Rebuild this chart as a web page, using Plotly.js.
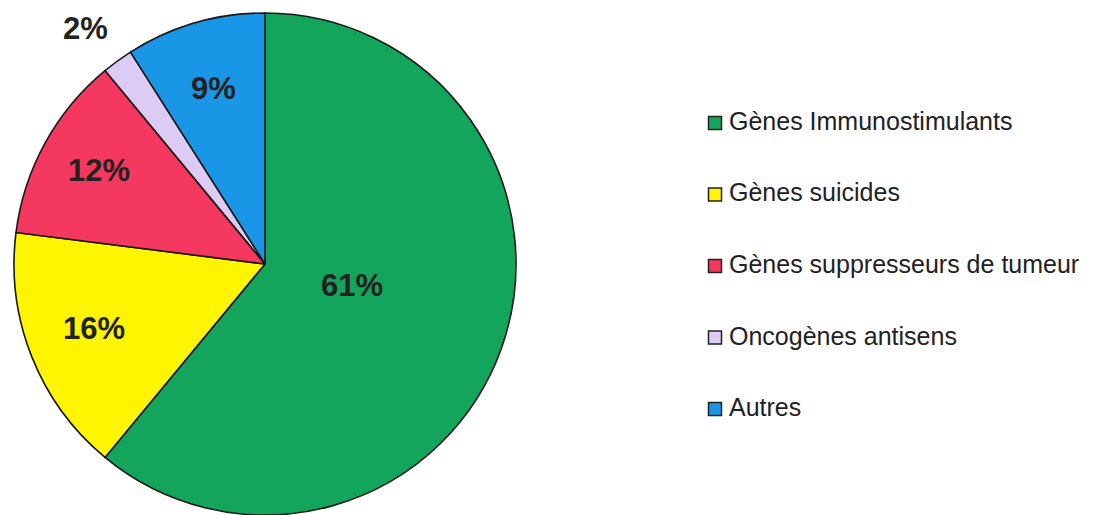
<!DOCTYPE html>
<html>
<head>
<meta charset="utf-8">
<script src="https://cdn.plot.ly/plotly-3.0.1.min.js"></script>
<style>
  html, body { margin: 0; padding: 0; background: #ffffff; }
  #chart { width: 1096px; height: 515px; }
</style>
</head>
<body>
<div id="chart"></div>
<script>
// Répartition des gènes utilisés en thérapie génique du cancer
const categories = [
  "Gènes Immunostimulants",
  "Gènes suicides",
  "Gènes suppresseurs de tumeur",
  "Oncogènes antisens",
  "Autres"
];
const percentages = [61, 16, 12, 2, 9];
const sliceColors = ["#12A55B", "#FFF500", "#F4385F", "#DCCBF2", "#1A96E6"];

// Figure geometry (pixels)
const W = 1096, H = 515;
const cx = 265, cy = 264, R = 251;
// placement of each percentage label: radius fraction and angular nudge (degrees)
const labelRadius = [0.357, 0.728, 0.76, 1.18, 0.729];
const labelNudge = [-5.6, 0.9, 0.7, -1.3, 0];

const px = x => x / W;
const py = y => (H - y) / H;

const total = percentages.reduce((a, b) => a + b, 0);
const annotations = [];
let cum = 0;
percentages.forEach((v, i) => {
  const mid = (cum + v / 2) / total;
  cum += v;
  const th = 2 * Math.PI * mid + labelNudge[i] * Math.PI / 180;
  const r = labelRadius[i] * R;
  annotations.push({
    xref: "paper", yref: "paper",
    x: px(cx + r * Math.sin(th)), y: py(cy - r * Math.cos(th)),
    xanchor: "center", yanchor: "middle",
    text: v + "%", showarrow: false,
    font: { family: "Liberation Sans, Arial, sans-serif", size: 31, color: "#222222", weight: "bold" }
  });
});

// Legend drawn on the right: square swatch + label for every category
const legendX = 715, legendY0 = 123, legendStep = 71.5, sw = 13;
const shapes = [];
categories.forEach((name, i) => {
  const yc = legendY0 + i * legendStep;
  shapes.push({
    type: "rect", xref: "paper", yref: "paper",
    x0: px(legendX - sw / 2), x1: px(legendX + sw / 2),
    y0: py(yc + sw / 2), y1: py(yc - sw / 2),
    fillcolor: sliceColors[i], line: { color: "#222222", width: 1.5 }
  });
  annotations.push({
    xref: "paper", yref: "paper",
    x: px(727), y: py(yc - 2),
    xanchor: "left", yanchor: "middle",
    text: name, showarrow: false,
    font: { family: "Liberation Sans, Arial, sans-serif", size: 25, color: "#222222" }
  });
});

const trace = {
  type: "pie",
  labels: categories,
  values: percentages,
  marker: { colors: sliceColors, line: { color: "#1a1a1a", width: 1.6 } },
  sort: false,
  direction: "clockwise",
  rotation: 0,
  textinfo: "none",
  hoverinfo: "label+percent",
  domain: { x: [px(cx - R), px(cx + R)], y: [py(cy + R), py(cy - R)] },
  showlegend: false
};

const layout = {
  width: W, height: H,
  margin: { l: 0, r: 0, t: 0, b: 0 },
  paper_bgcolor: "#ffffff",
  plot_bgcolor: "#ffffff",
  showlegend: false,
  annotations: annotations,
  shapes: shapes
};

Plotly.newPlot("chart", [trace], layout, { displayModeBar: false, staticPlot: true });
</script>
</body>
</html>
